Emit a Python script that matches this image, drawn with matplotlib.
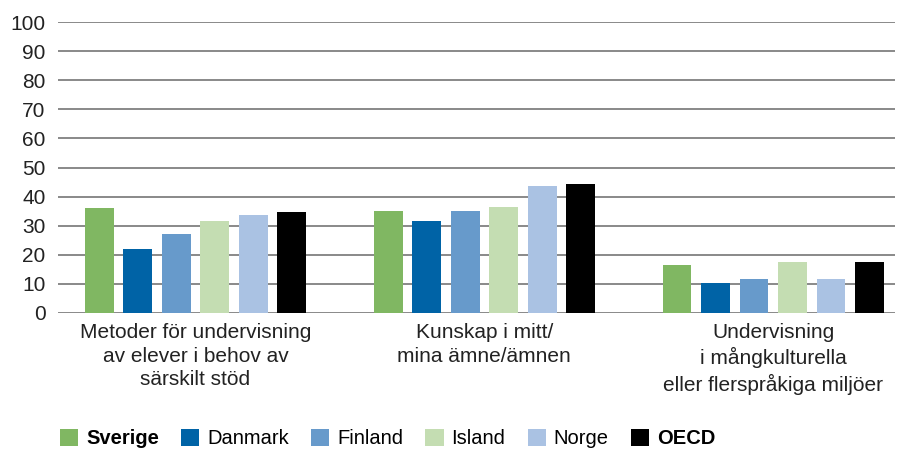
import matplotlib
matplotlib.use("Agg")
import matplotlib.pyplot as plt
from matplotlib.patches import Patch
import numpy as np

plt.rcParams['font.family'] = ['Liberation Sans', 'DejaVu Sans']

categories = ["Metoder för undervisning\nav elever i behov av\nsärskilt stöd",
              "Kunskap i mitt/\nmina ämne/ämnen",
              "Undervisning\ni mångkulturella\neller flerspråkiga miljöer"]
countries = ["Sverige", "Danmark", "Finland", "Island", "Norge", "OECD"]
sverige = [36, 35, 16.5]
danmark = [22, 31.5, 10.2]
finland = [27, 35, 11.6]
island = [31.5, 36.5, 17.5]
norge = [33.8, 43.5, 11.6]
oecd = [34.8, 44.5, 17.5]
colors = ["#80B762", "#0063A6", "#679ACB", "#C4DDB2", "#AAC2E3", "#000000"]

series = [sverige, danmark, finland, island, norge, oecd]

fig = plt.figure(figsize=(9.06, 4.51), dpi=100)
ax = fig.add_axes([0.064, 0.306, 0.924, 0.645])

x = np.arange(len(categories))
step = 0.1333
width = 0.10
for i, vals in enumerate(series):
    ax.bar(x + (i - 2.5) * step, vals, width=width, color=colors[i], zorder=3)

ax.set_ylim(0, 100)
ax.set_xlim(-0.476, 2.422)
ax.set_yticks(range(0, 101, 10))
ax.yaxis.grid(True, color="#808080", linewidth=1.3, zorder=0)
ax.set_axisbelow(True)
for s in ax.spines.values():
    s.set_visible(False)
ax.tick_params(axis="y", length=0, pad=9, labelsize=15, labelcolor="#222222")
ax.set_xticks(x)
ax.set_xticklabels(categories, fontsize=15, linespacing=1.32, color="#222222")
ax.tick_params(axis="x", length=0, pad=7)

handles = [Patch(facecolor=c) for c in colors]
leg = fig.legend(handles, countries, loc="center left", bbox_to_anchor=(0.046, 0.027),
                 ncol=6, frameon=False, handlelength=0.9, handleheight=0.9,
                 handletextpad=0.4, columnspacing=1.1,
                 prop={'family': ['Liberation Sans', 'DejaVu Sans'], 'size': 14.5})
for t in leg.get_texts():
    if t.get_text() in ("Sverige", "OECD"):
        t.set_fontweight("bold")

fig.savefig("out.png", dpi=100)
